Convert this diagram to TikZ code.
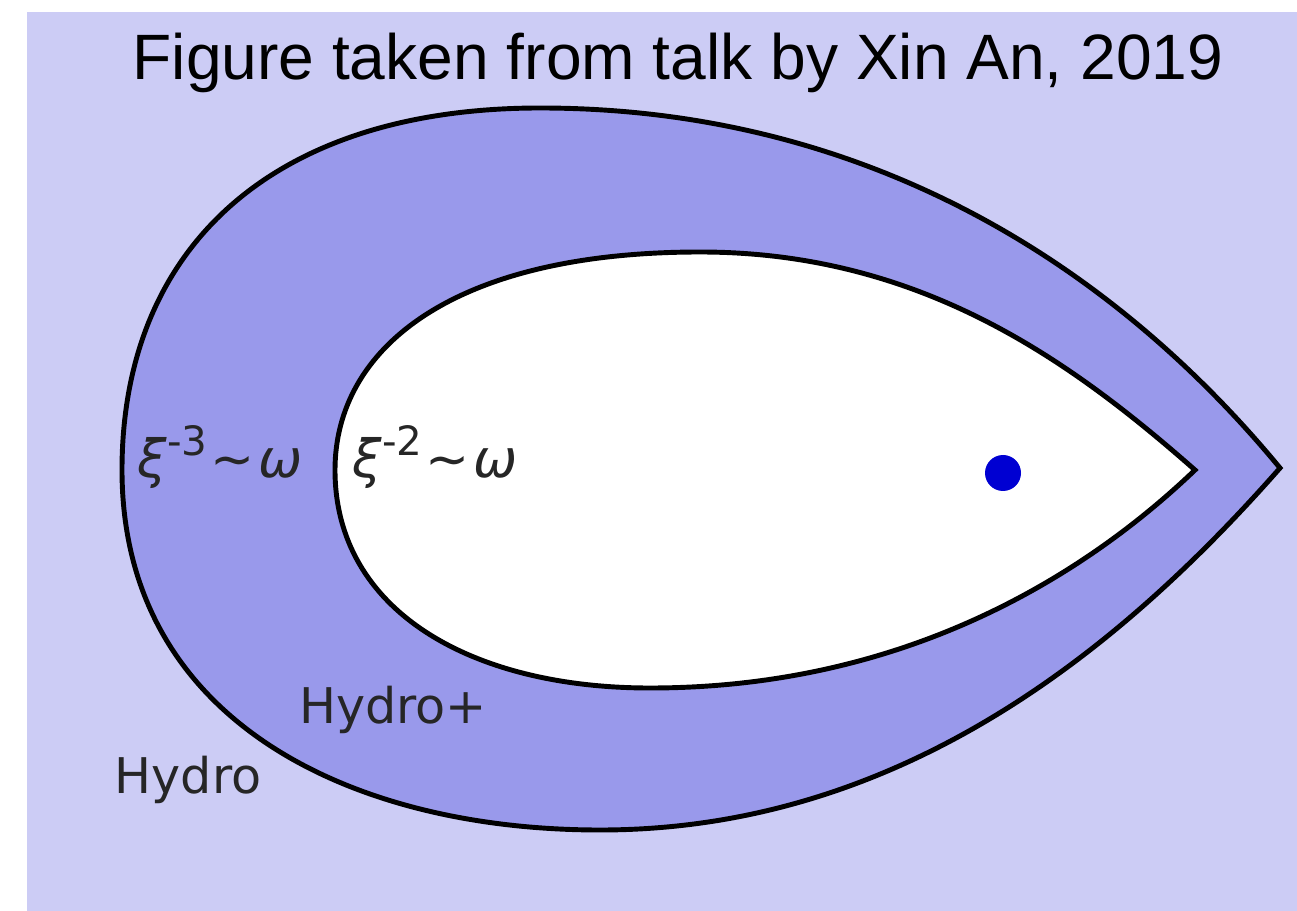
\documentclass[tikz,border=0pt]{standalone}
\usepackage{fontspec}
\setmainfont{Liberation Sans}
\newfontfamily\dejavu{DejaVu Sans}
\usepackage{xcolor}
\usepackage{tikz}
\usetikzlibrary{positioning}
\definecolor{hydrobg}{RGB}{204,204,245}
\definecolor{hydroplus}{RGB}{153,153,235}
\definecolor{dotblue}{RGB}{0,0,210}
\newcommand{\supnum}[1]{\raisebox{0.42em}{\fontsize{23}{23}\selectfont #1}}
\newcommand{\simw}{\kern2pt∼\kern2pt}

\begin{document}
\begin{tikzpicture}[x=0.02cm, y=-0.02cm]
    \useasboundingbox (0,0) rectangle (1297,911);
    % Background (Hydro region)
    \fill[hydrobg] (27,12) rectangle (1297,911);

    % Outer drop (Hydro+)
    \draw[fill=hydroplus, draw=black, line width=2.8pt]
        (1280,468) .. controls (1100,250) and (850,108) .. (540,108)
        .. controls (270,108) and (122,250) .. (122,470)
        .. controls (122,720) and (350,830) .. (600,830)
        .. controls (900,830) and (1120,650) .. (1280,468) -- cycle;

    % Inner drop
    \draw[fill=white, draw=black, line width=2.8pt]
        (1195,470) .. controls (1070,360) and (920,252) .. (700,252)
        .. controls (450,252) and (335,350) .. (335,470)
        .. controls (335,610) and (470,688) .. (650,688)
        .. controls (900,688) and (1080,580) .. (1195,470) -- cycle;

    % Critical point
    \fill[dotblue] (1003,473) circle (18);

    % Labels
    \node[font=\fontsize{36.5}{40}\selectfont] (title) at (678,63) {Figure taken from talk by Xin An, 2019};
    \node[font=\dejavu\fontsize{30}{30}\selectfont, color=black!85, anchor=base west, inner sep=0pt] (outerlbl) at (137,478) {\textit{ξ}\supnum{-3}\simw\textit{ω}};
    \node[font=\dejavu\fontsize{30}{30}\selectfont, color=black!85, anchor=base west, inner sep=0pt] (innerlbl) at (352,478) {\textit{ξ}\supnum{-2}\simw\textit{ω}};
    \node[font=\dejavu\fontsize{28}{30}\selectfont, color=black!85] (hydroplus) at (393,710) {Hydro+};
    \node[font=\dejavu\fontsize{28}{30}\selectfont, color=black!85] (hydro) at (188,780) {Hydro};
\end{tikzpicture}
\end{document}
